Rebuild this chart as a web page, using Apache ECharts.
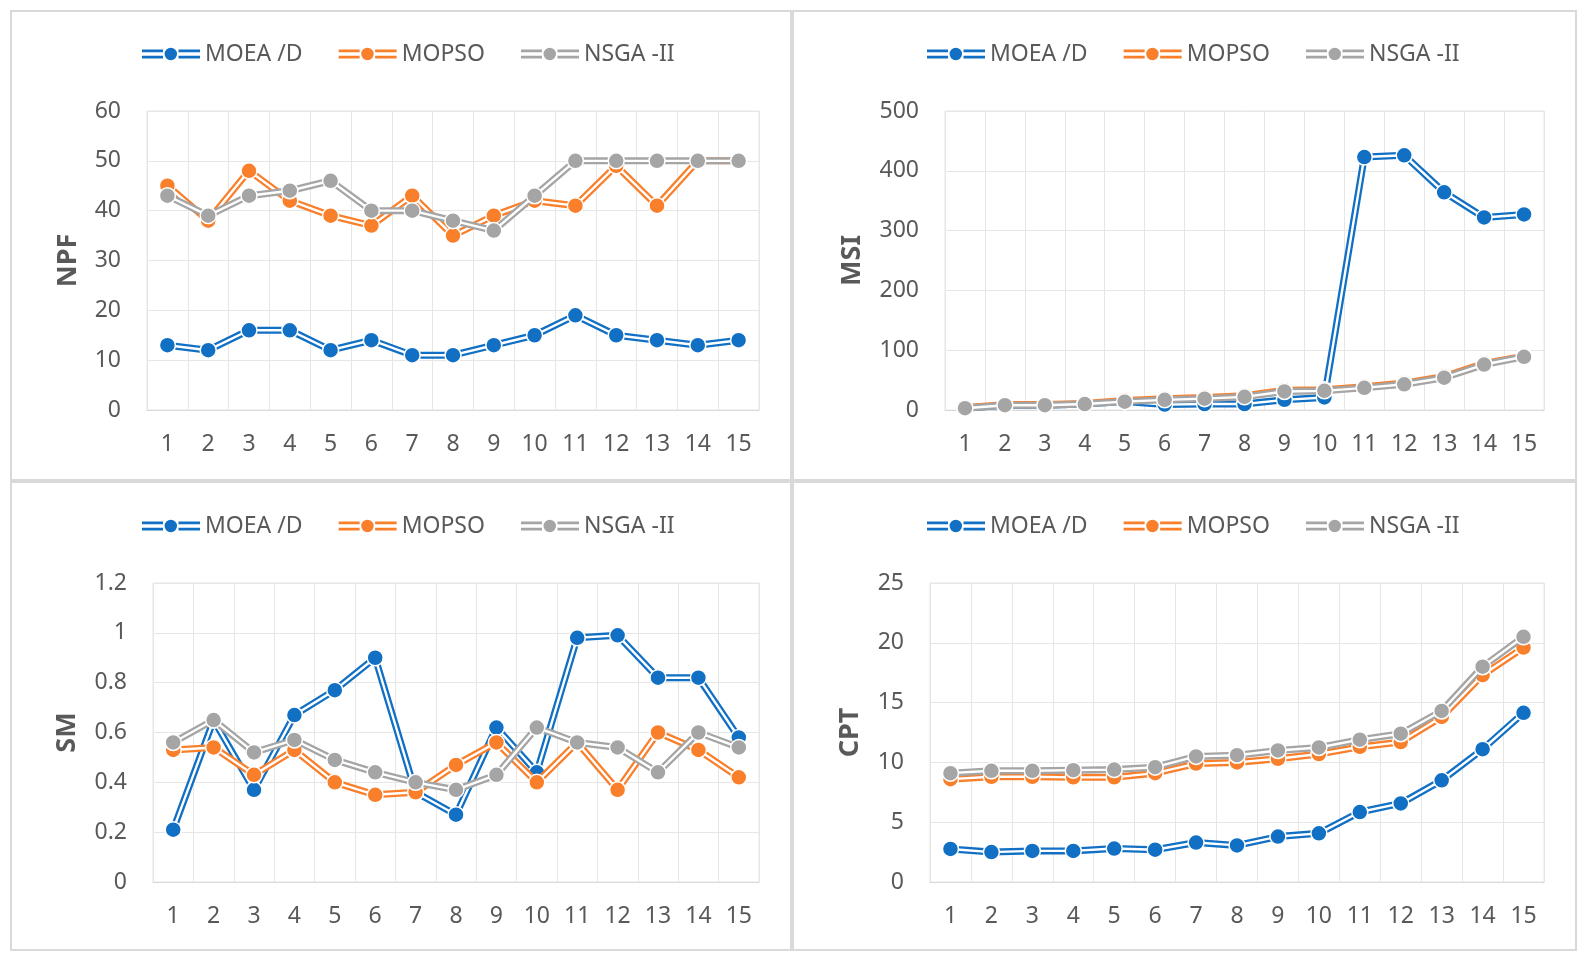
<!DOCTYPE html>
<html lang="en">
<head>
<meta charset="UTF-8">
<title>NPF / MSI / SM / CPT</title>
<script src="https://cdn.jsdelivr.net/npm/echarts@6.0.0/dist/echarts.min.js"></script>
<style>
  html, body { margin: 0; padding: 0; background: #fff; }
  #chart { width: 1587px; height: 962px; }
</style>
</head>
<body>
<div id="chart"></div>
<script>
// run numbers on the x axis
const categories = ['1', '2', '3', '4', '5', '6', '7', '8', '9', '10', '11', '12', '13', '14', '15'];
const algoNames = ['MOEA /D', 'MOPSO', 'NSGA -II'];
const algoColors = ['#1170C4', '#F97F2B', '#A5A5A5'];

// NPF
const npfMoea = [13, 12, 16, 16, 12, 14, 11, 11, 13, 15, 19, 15, 14, 13, 14];
const npfMopso = [45, 38, 48, 42, 39, 37, 43, 35, 39, 42, 41, 49, 41, 50, 50];
const npfNsga = [43, 39, 43, 44, 46, 40, 40, 38, 36, 43, 50, 50, 50, 50, 50];

// MSI
const msiMoea = [3, 8, 8, 10, 14, 9, 10, 10, 17, 21, 423, 426, 364, 322, 327];
const msiMopso = [4, 9, 9, 11, 16, 19, 21, 24, 33, 34, 39, 45, 56, 78, 90];
const msiNsga = [3, 8, 8, 10, 14, 17, 19, 22, 31, 32, 37, 43, 54, 76, 89];

// SM
const smMoea = [0.21, 0.65, 0.37, 0.67, 0.77, 0.90, 0.36, 0.27, 0.62, 0.44, 0.98, 0.99, 0.82, 0.82, 0.58];
const smMopso = [0.53, 0.54, 0.43, 0.53, 0.40, 0.35, 0.36, 0.47, 0.56, 0.40, 0.56, 0.37, 0.60, 0.53, 0.42];
const smNsga = [0.56, 0.65, 0.52, 0.57, 0.49, 0.44, 0.40, 0.37, 0.43, 0.62, 0.56, 0.54, 0.44, 0.60, 0.54];

// CPT
const cptMoea = [2.76, 2.5, 2.6, 2.6, 2.8, 2.7, 3.3, 3.06, 3.8, 4.07, 5.85, 6.57, 8.5, 11.1, 14.15];
const cptMopso = [8.6, 8.8, 8.8, 8.75, 8.75, 9.1, 9.9, 10.0, 10.3, 10.7, 11.3, 11.7, 13.8, 17.3, 19.6];
const cptNsga = [9.1, 9.3, 9.3, 9.35, 9.4, 9.6, 10.5, 10.6, 11.0, 11.25, 11.9, 12.4, 14.3, 18.0, 20.5];

const panels = [
  { axisName: 'NPF', values: [npfMoea, npfMopso, npfNsga], max: 60, step: 10,
    box: { left: 147, top: 111, width: 612, height: 299 }, legendAt: [137, 37], nameGap: 65 },
  { axisName: 'MSI', values: [msiMoea, msiMopso, msiNsga], max: 500, step: 100,
    box: { left: 945, top: 111, width: 599, height: 299 }, legendAt: [922, 37], nameGap: 79 },
  { axisName: 'SM', values: [smMoea, smMopso, smNsga], max: 1.2, step: 0.2,
    box: { left: 153, top: 583, width: 606, height: 299 }, legendAt: [137, 509], nameGap: 72 },
  { axisName: 'CPT', values: [cptMoea, cptMopso, cptNsga], max: 25, step: 5,
    box: { left: 930, top: 583, width: 614, height: 299 }, legendAt: [922, 509], nameGap: 66 }
];

const textColor = '#595959';
const gridColor = '#E6E6E6';
const font = 'Noto Sans';
// double line + dot, like the excel legend key
const legendIcon = 'path://M0,1.8h21v2.6h-21z M0,8h21v2.6h-21z M36.5,1.8h21.5v2.6h-21.5z M36.5,8h21.5v2.6h-21.5z M22.6,6.2a6.2,6.2 0 1,1 12.4,0a6.2,6.2 0 1,1 -12.4,0z';

const chart = echarts.init(document.getElementById('chart'));

const grids = [], xAxes = [], yAxes = [], legends = [], series = [];
let z = 3;

panels.forEach((p, i) => {
  grids.push(Object.assign({ show: true, borderColor: gridColor, borderWidth: 1, containLabel: false, outerBoundsMode: 'none' }, p.box));

  xAxes.push({
    type: 'category', gridIndex: i, data: categories, boundaryGap: true,
    axisLine: { lineStyle: { color: '#D9D9D9' } },
    axisTick: { show: false },
    splitLine: { show: true, lineStyle: { color: gridColor } },
    axisLabel: { color: textColor, fontSize: 23, fontFamily: font, margin: 23, interval: 0 }
  });

  yAxes.push({
    type: 'value', gridIndex: i, min: 0, max: p.max, interval: p.step,
    name: p.axisName, nameLocation: 'middle', nameRotate: 90, nameGap: p.nameGap,
    nameTextStyle: { color: textColor, fontSize: 27, fontWeight: 'bold', fontFamily: font },
    axisLine: { show: false }, axisTick: { show: false },
    splitLine: { lineStyle: { color: gridColor } },
    axisLabel: { color: textColor, fontSize: 23, fontFamily: font, margin: 26 }
  });

  legends.push({
    left: p.legendAt[0], top: p.legendAt[1], orient: 'horizontal',
    data: algoNames, icon: legendIcon, itemWidth: 58, itemHeight: 12.4, itemGap: 36,
    itemStyle: { borderWidth: 0 }, selectedMode: false,
    textStyle: { color: textColor, fontSize: 23, fontFamily: font, lineHeight: 24 }
  });

  p.values.forEach((vals, k) => {
    const c = algoColors[k];
    // coloured outer stroke
    series.push({
      type: 'line', name: algoNames[k], xAxisIndex: i, yAxisIndex: i, data: vals,
      color: c, symbol: 'none', z: z++, silent: true,
      lineStyle: { color: c, width: 7 }
    });
    // white centre stroke -> double line
    series.push({
      type: 'line', name: algoNames[k] + ' inner', xAxisIndex: i, yAxisIndex: i, data: vals,
      symbol: 'none', z: z++, silent: true,
      lineStyle: { color: '#FFFFFF', width: 2.4 }
    });
    // markers
    series.push({
      type: 'line', name: algoNames[k] + ' marker', xAxisIndex: i, yAxisIndex: i, data: vals,
      symbol: 'circle', symbolSize: 16, showAllSymbol: true, z: z++, silent: true,
      lineStyle: { width: 0, opacity: 0 },
      itemStyle: { color: c, borderColor: '#FFFFFF', borderWidth: 1.5 }
    });
  });
});

// panel frames
const frame = (x1, y1, x2, y2) => ({
  type: 'rect', z: 0, silent: true,
  shape: { x: x1, y: y1, width: x2 - x1, height: y2 - y1 },
  style: { fill: 'none', stroke: '#D9D9D9', lineWidth: 2 }
});

chart.setOption({
  backgroundColor: '#FFFFFF',
  animation: false,
  graphic: [frame(11, 11, 791, 480), frame(793, 11, 1576, 480), frame(11, 482, 791, 950), frame(793, 482, 1576, 950)],
  grid: grids,
  xAxis: xAxes,
  yAxis: yAxes,
  legend: legends,
  series: series
});
</script>
</body>
</html>
